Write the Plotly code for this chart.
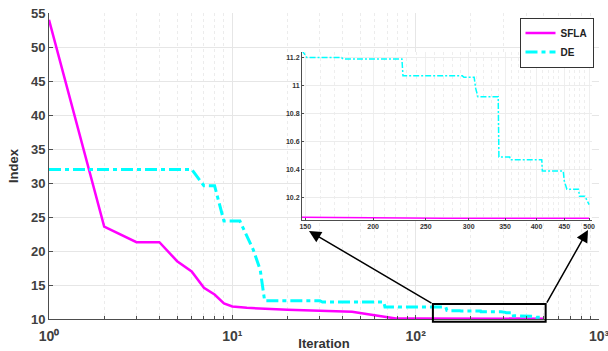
import plotly.graph_objects as go

# ---------------- data ----------------
iter_sfla = [1, 2, 3, 4, 5, 6, 7, 8, 9, 10, 12, 15, 20, 30, 40, 45, 55, 65, 72, 78,
             100, 150, 170, 270, 500]
index_sfla = [54.0, 23.6, 21.3, 21.3, 18.5, 17.0, 14.6, 13.6, 12.3, 11.85, 11.65, 11.5,
              11.35, 11.2, 11.12, 11.05, 10.7, 10.4, 10.15, 10.07,
              10.065, 10.063, 10.058, 10.053, 10.052]

iter_de = [1, 6, 7, 8, 9, 11, 13, 14.2, 15, 30, 31, 67, 68, 146, 148, 151, 175, 176,
           226, 227, 292, 294, 307, 309, 312, 340, 341, 357, 358, 409, 410, 448, 450,
           455, 478, 480, 491, 500]
index_de = [32.0, 32.0, 29.6, 29.6, 24.4, 24.4, 20.2, 17.2, 12.7, 12.7, 12.5, 12.5,
            11.75, 11.75, 11.25, 11.2, 11.2, 11.19, 11.19, 11.07, 11.07, 11.06, 11.06,
            10.98, 10.92, 10.92, 10.49, 10.49, 10.47, 10.47, 10.39, 10.39, 10.32,
            10.26, 10.26, 10.21, 10.21, 10.15]

main_xtickvals = [1, 10, 100, 1000]
main_xticktext = ["10\u2070", "10\u00b9", "10\u00b2", "10\u00b3"]
main_xminor = [2, 3, 4, 5, 6, 7, 8, 9, 20, 30, 40, 50, 60, 70, 80, 90,
               200, 300, 400, 500, 600, 700, 800, 900]
main_ytickvals = [10, 15, 20, 25, 30, 35, 40, 45, 50, 55]

inset_xtickvals = [150, 200, 250, 300, 350, 400, 450, 500]
inset_xminor = [160, 170, 180, 190, 210, 220, 230, 240, 260, 270, 280, 290, 310, 320,
                330, 340, 360, 370, 380, 390, 410, 420, 430, 440, 460, 470, 480, 490]
inset_ytickvals = [10.2, 10.4, 10.6, 10.8, 11.0, 11.2]

MAG = "#ff00ff"
CYA = "#00ffff"
FONT = "Liberation Sans"
AXC = "#4d4d4d"
GRID = "#e6e6e6"

fig = go.Figure()

fig.add_trace(go.Scatter(x=iter_sfla, y=index_sfla, mode="lines", name="SFLA",
                         line=dict(color=MAG, width=2.5), xaxis="x", yaxis="y"))
fig.add_trace(go.Scatter(x=iter_de, y=index_de, mode="lines", name="DE",
                         line=dict(color=CYA, width=3, dash="12px,4px,4px,4px"),
                         xaxis="x", yaxis="y"))
fig.add_trace(go.Scatter(x=iter_sfla, y=index_sfla, mode="lines", showlegend=False,
                         line=dict(color=MAG, width=1.5), xaxis="x2", yaxis="y2"))
fig.add_trace(go.Scatter(x=iter_de, y=index_de, mode="lines", showlegend=False,
                         line=dict(color=CYA, width=1.5, dash="6px,2px,2px,2px"),
                         xaxis="x2", yaxis="y2"))

fig.update_layout(
    width=608, height=351,
    margin=dict(l=49, r=9, t=13, b=32),
    paper_bgcolor="white", plot_bgcolor="white",
    font=dict(family=FONT, color="#333333"),
    xaxis=dict(
        type="log", range=[0, 3], domain=[0, 1], automargin=False,
        tickvals=main_xtickvals, ticktext=main_xticktext,
        tickfont=dict(size=14, weight="bold", color="#404040"),
        ticklabelstandoff=4, ticklabeloverflow="allow",
        showgrid=True, gridcolor=GRID, gridwidth=1,
        showline=True, linecolor=AXC, linewidth=1,
        ticks="inside", ticklen=4, tickcolor=AXC,
        minor=dict(tickvals=main_xminor, showgrid=True, gridcolor="#ececec",
                   griddash="dot", ticks="inside", ticklen=3, tickcolor=AXC),
        title=dict(text="Iteration", font=dict(size=13, weight="bold", color="#333333"),
                   standoff=0),
        zeroline=False,
    ),
    yaxis=dict(
        range=[10, 55], domain=[0, 1], automargin=False,
        tickvals=main_ytickvals,
        tickfont=dict(size=13, weight="bold", color="#404040"),
        showgrid=True, gridcolor=GRID, gridwidth=1,
        showline=True, linecolor=AXC, linewidth=1,
        ticks="inside", ticklen=4, tickcolor=AXC,
        title=dict(text="Index", font=dict(size=13, weight="bold", color="#333333"),
                   standoff=9),
        zeroline=False,
    ),
    xaxis2=dict(
        type="log", range=[2.170, 2.704], domain=[0.46, 0.987], anchor="y2",
        automargin=False,
        tickvals=inset_xtickvals,
        tickfont=dict(size=7, weight="bold", color="#333333"),
        showgrid=True, gridcolor="#efefef",
        showline=True, linecolor=AXC, linewidth=1, mirror=False,
        ticks="inside", ticklen=2, tickcolor=AXC,
        minor=dict(tickvals=inset_xminor, showgrid=True, gridcolor="#eeeeee",
                   griddash="dot"),
        zeroline=False,
    ),
    yaxis2=dict(
        range=[10.04, 11.24], domain=[0.3235, 0.8725], anchor="x2",
        automargin=False,
        tickvals=inset_ytickvals,
        tickfont=dict(size=7, weight="bold", color="#333333"),
        showgrid=True, gridcolor="#ececec",
        showline=True, linecolor=AXC, linewidth=1,
        ticks="inside", ticklen=2, tickcolor=AXC,
        zeroline=False,
    ),
    legend=dict(
        x=0.99, y=0.985, xanchor="right", yanchor="top",
        bgcolor="white", bordercolor="#333333", borderwidth=1,
        font=dict(size=10, weight="bold", color="#222222"),
        tracegroupgap=0, itemwidth=30,
    ),
    showlegend=True,
)

# zoom rectangle on main plot
fig.add_shape(type="rect", xref="paper", yref="paper",
              x0=0.698, x1=0.903, y0=-0.009, y1=0.049,
              line=dict(color="black", width=2), fillcolor="rgba(0,0,0,0)")

# arrows from rectangle to inset
fig.add_annotation(xref="paper", yref="paper", x=0.4727, y=0.2876, ax=124, ay=73,
                   text="", showarrow=True, arrowhead=2, arrowsize=1.6,
                   arrowwidth=1.5, arrowcolor="black")
fig.add_annotation(xref="paper", yref="paper", x=0.98, y=0.2908, ax=-42, ay=74,
                   text="", showarrow=True, arrowhead=2, arrowsize=1.6,
                   arrowwidth=1.5, arrowcolor="black")

fig.write_html("out.html")
